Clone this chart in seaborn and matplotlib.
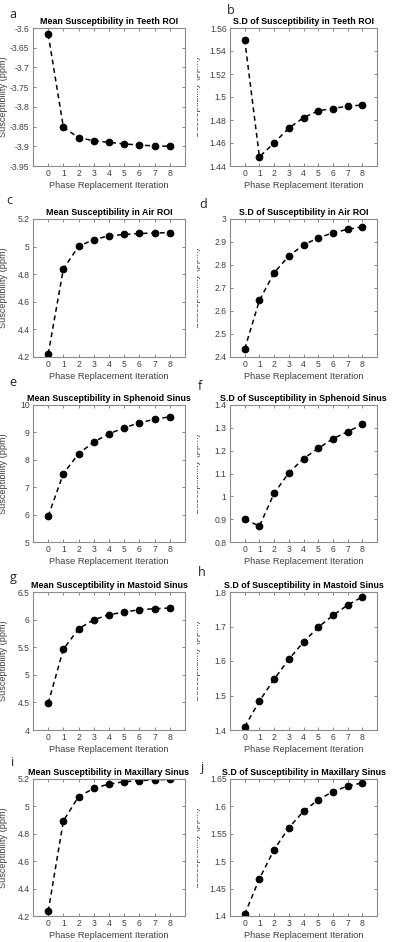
import matplotlib
matplotlib.use("Agg")
import matplotlib.pyplot as plt
import seaborn as sns
from matplotlib.ticker import MultipleLocator, FuncFormatter
from matplotlib.transforms import Bbox, TransformedBbox

# --- data ---
iteracoes = [0, 1, 2, 3, 4, 5, 6, 7, 8]

teeth_mean = [-3.616, -3.852, -3.878, -3.886, -3.890, -3.894, -3.897, -3.899, -3.900]
teeth_sd = [1.550, 1.448, 1.460, 1.473, 1.482, 1.488, 1.490, 1.492, 1.493]
air_mean = [4.222, 4.839, 5.002, 5.051, 5.078, 5.088, 5.095, 5.098, 5.102]
air_sd = [2.435, 2.646, 2.766, 2.839, 2.887, 2.918, 2.940, 2.955, 2.966]
sphenoid_mean = [5.94, 7.50, 8.22, 8.65, 8.95, 9.17, 9.35, 9.48, 9.57]
sphenoid_sd = [0.900, 0.869, 1.013, 1.103, 1.165, 1.210, 1.252, 1.283, 1.315]
mastoid_mean = [4.484, 5.465, 5.834, 5.998, 6.088, 6.137, 6.179, 6.197, 6.209]
mastoid_sd = [1.409, 1.484, 1.547, 1.605, 1.655, 1.698, 1.732, 1.762, 1.786]
maxillary_mean = [4.234, 4.895, 5.071, 5.132, 5.163, 5.180, 5.188, 5.193, 5.198]
maxillary_sd = [1.403, 1.468, 1.521, 1.561, 1.591, 1.612, 1.627, 1.637, 1.643]

letras = ["a", "b", "c", "d", "e", "f", "g", "h", "i", "j"]
titulos = [
    "Mean Susceptibility in Teeth ROI", "S.D of Susceptibility in Teeth ROI",
    "Mean Susceptibility in Air ROI", "S.D of Susceptibility in Air ROI",
    "Mean Susceptibility in Sphenoid Sinus", "S.D of Susceptibility in Sphenoid Sinus",
    "Mean Susceptibility in Mastoid Sinus", "S.D of Susceptibility in Mastoid Sinus",
    "Mean Susceptibility in Maxillary Sinus", "S.D of Susceptibility in Maxillary Sinus",
]
series = [teeth_mean, teeth_sd, air_mean, air_sd, sphenoid_mean, sphenoid_sd,
          mastoid_mean, mastoid_sd, maxillary_mean, maxillary_sd]
limites_y = [(-3.95, -3.6), (1.44, 1.56), (4.2, 5.2), (2.4, 3.0), (5, 10),
             (0.8, 1.4), (4, 6.5), (1.4, 1.8), (4.2, 5.2), (1.4, 1.65)]
passos_y = [0.05, 0.02, 0.2, 0.1, 1, 0.1, 0.5, 0.1, 0.2, 0.05]

# --- layout (pixels, origin top-left) ---
W, H = 397, 942
colunas = [(33, 185), (230, 377)]
linhas = [(28, 166), (219, 357), (405, 542), (592, 730), (779, 916)]
pos_letras = [(13, 14), (231, 11), (9, 200), (203, 204), (13, 382),
              (200, 387), (13, 577), (202, 572), (13, 762), (202, 767)]

sns.set_style("ticks")
plt.rcParams["font.family"] = ["Liberation Sans", "DejaVu Sans"]

fig = plt.figure(figsize=(W / 100, H / 100), dpi=100)
cinza = "#404040"

# the right column's y labels are cut at the panel seam in the original
corte_direita = TransformedBbox(Bbox([[197 / W, 0], [1, 1]]), fig.transFigure)

for i in range(10):
    x0, x1 = colunas[i % 2]
    y0, y1 = linhas[i // 2]
    ax = fig.add_axes([x0 / W, 1 - y1 / H, (x1 - x0) / W, (y1 - y0) / H])

    sns.lineplot(x=iteracoes, y=series[i], ax=ax, color="black", linestyle="--",
                 linewidth=1.1, marker="o", markersize=4.8, markeredgecolor="black",
                 dashes=False)
    ax.lines[0].set_dashes((3.2, 2.4))

    ax.set_xlim(-1, 9)
    ax.set_ylim(*limites_y[i])
    ax.set_xticks(iteracoes)
    ax.yaxis.set_major_locator(MultipleLocator(passos_y[i]))
    ax.yaxis.set_major_formatter(FuncFormatter(lambda v, p: f"{v:g}"))

    for s in ax.spines.values():
        s.set_visible(True)
        s.set_color("#8a8a8a")
        s.set_linewidth(0.8)
    ax.tick_params(direction="in", length=2.2, width=0.5, top=True, right=True,
                   labelsize=6.2, colors="#555555", labelcolor=cinza, pad=2.5)

    ax.set_title(titulos[i], fontsize=6.4, fontweight="bold", color="black", pad=3.2)
    ax.set_xlabel("Phase Replacement Iteration", fontsize=6.7, color=cinza, labelpad=2)
    ax.set_ylabel("Susceptibility (ppm)", fontsize=6.6, color=cinza)
    lx = 8.5 if i % 2 == 0 else 201
    ax.yaxis.set_label_coords((lx - x0) / (x1 - x0), 0.5)
    if i % 2 == 1:
        ax.yaxis.label.set_clip_box(corte_direita)
        ax.yaxis.label.set_clip_on(True)

    px, py = pos_letras[i]
    fig.text(px / W, 1 - py / H, letras[i], fontsize=9, color="#222222",
             family=["Open Sans", "DejaVu Sans"], ha="center", va="center")

fig.savefig("out.png", dpi=100)
